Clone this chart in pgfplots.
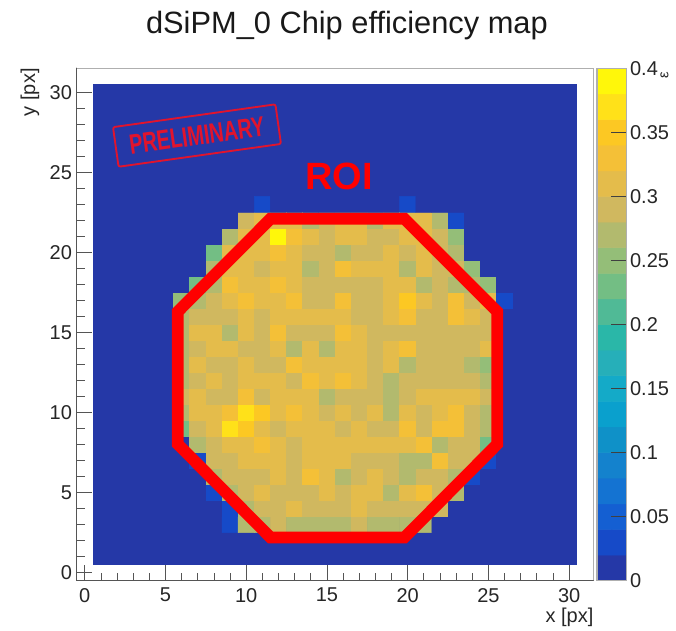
\documentclass[border=0pt]{standalone}
\usepackage{pgfplots}
\usepackage{fontspec}
\setmainfont{Liberation Sans}
\pgfplotsset{compat=1.18}
\definecolor{bg}{RGB}{37,56,167}
\definecolor{fr}{RGB}{175,175,175}
\definecolor{ax}{RGB}{85,85,85}
\definecolor{stamp}{RGB}{225,20,45}
\pgfplotsset{
 colormap={bird}{rgb255=(37,56,167) rgb255=(22,74,200) rgb255=(20,95,210) rgb255=(20,115,210)
  rgb255=(20,130,205) rgb255=(15,145,200) rgb255=(10,160,205) rgb255=(20,170,200)
  rgb255=(38,175,185) rgb255=(42,183,168) rgb255=(80,186,150) rgb255=(115,190,132)
  rgb255=(148,190,120) rgb255=(178,186,110) rgb255=(208,184,95) rgb255=(228,188,75)
  rgb255=(244,192,55) rgb255=(252,200,35) rgb255=(255,225,25) rgb255=(255,247,10)},
 colormap access=piecewise constant,
 tickfont/.style={font=\fontsize{15}{15}\selectfont, text=black!85},
}
\begin{document}
\begin{tikzpicture}[x=1pt,y=1pt]
\useasboundingbox (0,0) rectangle (507,473.25);
\begin{axis}[
 at={(57.525pt,37.725pt)}, anchor=south west,
 scale only axis, width=387.525pt, height=384.3pt,
 xmin=-0.5, xmax=31.5, ymin=-0.5, ymax=31.5,
 xtick={0,5,...,30}, ytick={0,5,...,30},
 minor x tick num=4, minor y tick num=4,
 xtick pos=bottom, ytick pos=left,
 tick align=inside,
 major tick length=11.5pt, minor tick length=6pt,
 tick style={draw=ax, line width=0.7pt},
 minor tick style={draw=ax, line width=0.6pt},
 axis line style={draw=fr, line width=1pt},
 point meta min=0, point meta max=0.4,
 /pgf/number format/assume math mode=true,
 tick label style={tickfont},
 xticklabel style={yshift=-2pt},
 yticklabel style={xshift=0pt},
 clip=false,
 title={dSiPM\_0 Chip efficiency map},
 title style={at={(axis description cs:0.523,1.068)}, anchor=center, font=\fontsize{23.1}{23.1}\selectfont, text=black!90},
 xlabel={x [px]},
 xlabel style={at={(axis description cs:1,0)}, anchor=north east, yshift=-17pt, xshift=3.5pt, font=\fontsize{15}{15}\selectfont, text=black!85},
 ylabel={y [px]},
 ylabel style={at={(axis description cs:0,1)}, anchor=south east, yshift=24.5pt, xshift=3.5pt, font=\fontsize{15}{15}\selectfont, text=black!85},
]
\addplot[fill=bg, draw=none] coordinates {(0.5,0.5) (30.5,0.5) (30.5,30.5) (0.5,30.5)} -- cycle;
\addplot[matrix plot*, mesh/cols=21, point meta=explicit] coordinates {
(6,3)[0] (7,3)[0] (8,3)[0] (9,3)[.03] (10,3)[.27] (11,3)[.27] (12,3)[.29] (13,3)[.27] (14,3)[.27] (15,3)[.27] (16,3)[.27] (17,3)[.29] (18,3)[.27] (19,3)[.27] (20,3)[.27] (21,3)[.27] (22,3)[0] (23,3)[0] (24,3)[0] (25,3)[0] (26,3)[0]
(6,4)[0] (7,4)[0] (8,4)[0] (9,4)[.03] (10,4)[.27] (11,4)[.29] (12,4)[.29] (13,4)[.31] (14,4)[.29] (15,4)[.29] (16,4)[.29] (17,4)[.31] (18,4)[.29] (19,4)[.29] (20,4)[.29] (21,4)[.29] (22,4)[.29] (23,4)[0] (24,4)[0] (25,4)[0] (26,4)[0]
(6,5)[0] (7,5)[0] (8,5)[.03] (9,5)[.27] (10,5)[.29] (11,5)[.31] (12,5)[.29] (13,5)[.29] (14,5)[.29] (15,5)[.31] (16,5)[.29] (17,5)[.31] (18,5)[.31] (19,5)[.27] (20,5)[.31] (21,5)[.33] (22,5)[.29] (23,5)[.27] (24,5)[0] (25,5)[0] (26,5)[0]
(6,6)[0] (7,6)[0] (8,6)[.27] (9,6)[.29] (10,6)[.29] (11,6)[.29] (12,6)[.31] (13,6)[.29] (14,6)[.33] (15,6)[.31] (16,6)[.27] (17,6)[.29] (18,6)[.31] (19,6)[.29] (20,6)[.27] (21,6)[.29] (22,6)[.29] (23,6)[.27] (24,6)[.03] (25,6)[0] (26,6)[0]
(6,7)[0] (7,7)[.03] (8,7)[.29] (9,7)[.29] (10,7)[.31] (11,7)[.31] (12,7)[.31] (13,7)[.29] (14,7)[.31] (15,7)[.31] (16,7)[.31] (17,7)[.29] (18,7)[.29] (19,7)[.29] (20,7)[.27] (21,7)[.27] (22,7)[.33] (23,7)[.29] (24,7)[.29] (25,7)[.03] (26,7)[0]
(6,8)[0] (7,8)[.27] (8,8)[.29] (9,8)[.31] (10,8)[.31] (11,8)[.33] (12,8)[.31] (13,8)[.29] (14,8)[.31] (15,8)[.31] (16,8)[.31] (17,8)[.31] (18,8)[.31] (19,8)[.31] (20,8)[.31] (21,8)[.33] (22,8)[.27] (23,8)[.29] (24,8)[.29] (25,8)[.23] (26,8)[0]
(6,9)[.23] (7,9)[.29] (8,9)[.31] (9,9)[.37] (10,9)[.35] (11,9)[.31] (12,9)[.29] (13,9)[.31] (14,9)[.31] (15,9)[.31] (16,9)[.29] (17,9)[.31] (18,9)[.29] (19,9)[.29] (20,9)[.33] (21,9)[.29] (22,9)[.33] (23,9)[.33] (24,9)[.29] (25,9)[.27] (26,9)[0]
(6,10)[.27] (7,10)[.31] (8,10)[.31] (9,10)[.33] (10,10)[.37] (11,10)[.35] (12,10)[.31] (13,10)[.33] (14,10)[.31] (15,10)[.29] (16,10)[.31] (17,10)[.29] (18,10)[.31] (19,10)[.27] (20,10)[.31] (21,10)[.29] (22,10)[.31] (23,10)[.33] (24,10)[.29] (25,10)[.27] (26,10)[0]
(6,11)[.29] (7,11)[.31] (8,11)[.29] (9,11)[.29] (10,11)[.33] (11,11)[.29] (12,11)[.31] (13,11)[.31] (14,11)[.31] (15,11)[.27] (16,11)[.29] (17,11)[.29] (18,11)[.29] (19,11)[.27] (20,11)[.29] (21,11)[.31] (22,11)[.31] (23,11)[.31] (24,11)[.31] (25,11)[.29] (26,11)[0]
(6,12)[.27] (7,12)[.29] (8,12)[.31] (9,12)[.29] (10,12)[.31] (11,12)[.31] (12,12)[.31] (13,12)[.29] (14,12)[.33] (15,12)[.31] (16,12)[.33] (17,12)[.31] (18,12)[.29] (19,12)[.27] (20,12)[.29] (21,12)[.29] (22,12)[.29] (23,12)[.29] (24,12)[.29] (25,12)[.27] (26,12)[0]
(6,13)[.27] (7,13)[.31] (8,13)[.29] (9,13)[.29] (10,13)[.31] (11,13)[.29] (12,13)[.29] (13,13)[.33] (14,13)[.31] (15,13)[.31] (16,13)[.31] (17,13)[.31] (18,13)[.29] (19,13)[.31] (20,13)[.27] (21,13)[.29] (22,13)[.29] (23,13)[.29] (24,13)[.27] (25,13)[.25] (26,13)[0]
(6,14)[.27] (7,14)[.29] (8,14)[.31] (9,14)[.31] (10,14)[.29] (11,14)[.29] (12,14)[.31] (13,14)[.27] (14,14)[.31] (15,14)[.27] (16,14)[.31] (17,14)[.31] (18,14)[.29] (19,14)[.31] (20,14)[.33] (21,14)[.29] (22,14)[.29] (23,14)[.29] (24,14)[.29] (25,14)[.31] (26,14)[0]
(6,15)[.27] (7,15)[.31] (8,15)[.31] (9,15)[.27] (10,15)[.31] (11,15)[.29] (12,15)[.33] (13,15)[.29] (14,15)[.29] (15,15)[.29] (16,15)[.33] (17,15)[.31] (18,15)[.29] (19,15)[.29] (20,15)[.29] (21,15)[.29] (22,15)[.29] (23,15)[.29] (24,15)[.29] (25,15)[.29] (26,15)[0]
(6,16)[.27] (7,16)[.29] (8,16)[.29] (9,16)[.29] (10,16)[.31] (11,16)[.29] (12,16)[.31] (13,16)[.31] (14,16)[.31] (15,16)[.31] (16,16)[.31] (17,16)[.29] (18,16)[.29] (19,16)[.31] (20,16)[.33] (21,16)[.29] (22,16)[.29] (23,16)[.33] (24,16)[.31] (25,16)[.29] (26,16)[0]
(6,17)[.25] (7,17)[.27] (8,17)[.29] (9,17)[.31] (10,17)[.33] (11,17)[.31] (12,17)[.31] (13,17)[.33] (14,17)[.29] (15,17)[.29] (16,17)[.33] (17,17)[.29] (18,17)[.29] (19,17)[.31] (20,17)[.35] (21,17)[.31] (22,17)[.29] (23,17)[.33] (24,17)[.29] (25,17)[.31] (26,17)[.03]
(6,18)[0] (7,18)[.23] (8,18)[.27] (9,18)[.33] (10,18)[.31] (11,18)[.31] (12,18)[.33] (13,18)[.31] (14,18)[.29] (15,18)[.29] (16,18)[.29] (17,18)[.29] (18,18)[.29] (19,18)[.31] (20,18)[.31] (21,18)[.27] (22,18)[.29] (23,18)[.27] (24,18)[.27] (25,18)[.25] (26,18)[0]
(6,19)[0] (7,19)[0] (8,19)[.27] (9,19)[.31] (10,19)[.31] (11,19)[.29] (12,19)[.31] (13,19)[.31] (14,19)[.27] (15,19)[.29] (16,19)[.33] (17,19)[.31] (18,19)[.31] (19,19)[.31] (20,19)[.27] (21,19)[.31] (22,19)[.29] (23,19)[.29] (24,19)[.25] (25,19)[0] (26,19)[0]
(6,20)[0] (7,20)[0] (8,20)[.23] (9,20)[.31] (10,20)[.31] (11,20)[.31] (12,20)[.33] (13,20)[.31] (14,20)[.29] (15,20)[.29] (16,20)[.27] (17,20)[.29] (18,20)[.29] (19,20)[.31] (20,20)[.29] (21,20)[.31] (22,20)[.29] (23,20)[.27] (24,20)[0] (25,20)[0] (26,20)[0]
(6,21)[0] (7,21)[0] (8,21)[0] (9,21)[.27] (10,21)[.31] (11,21)[.31] (12,21)[.39] (13,21)[.33] (14,21)[.31] (15,21)[.29] (16,21)[.31] (17,21)[.31] (18,21)[.29] (19,21)[.29] (20,21)[.31] (21,21)[.31] (22,21)[.29] (23,21)[.25] (24,21)[0] (25,21)[0] (26,21)[0]
(6,22)[0] (7,22)[0] (8,22)[0] (9,22)[0] (10,22)[.29] (11,22)[.31] (12,22)[.31] (13,22)[.31] (14,22)[.27] (15,22)[.29] (16,22)[.31] (17,22)[.31] (18,22)[.27] (19,22)[.31] (20,22)[.31] (21,22)[.31] (22,22)[.27] (23,22)[.03] (24,22)[0] (25,22)[0] (26,22)[0]
(6,23)[0] (7,23)[0] (8,23)[0] (9,23)[0] (10,23)[0] (11,23)[.03] (12,23)[0] (13,23)[0] (14,23)[0] (15,23)[0] (16,23)[0] (17,23)[0] (18,23)[0] (19,23)[0] (20,23)[.03] (21,23)[0] (22,23)[0] (23,23)[0] (24,23)[0] (25,23)[0] (26,23)[0]
};
% ROI polygon
\addplot[draw=red, line width=8.8pt, line join=miter] coordinates {(5.76,8.03) (5.76,16.3) (11.5,22.1) (19.8,22.1) (25.55,16.3) (25.55,8.03) (19.8,2.2) (11.5,2.2)} -- cycle;
\node[text=red, font=\fontsize{28.5}{28.5}\selectfont\bfseries, anchor=center] at (axis cs:15.75,24.75) {ROI};
\node[rotate=8, draw=stamp, line width=1.4pt, rounded corners=1.5pt, text=stamp, minimum width=123pt, minimum height=30pt, inner sep=0pt, font=\fontsize{21}{21}\selectfont\bfseries] at (axis cs:6.95,27.3) {\scalebox{0.71}[1]{PRELIMINARY}};
% frame emphasis on the axis sides
\draw[ax, line width=1pt, line cap=round] (rel axis cs:0,1) -- (rel axis cs:0,0) -- (rel axis cs:1,0);
\end{axis}
\begin{axis}[
 at={(447.75pt,37.725pt)}, anchor=south west,
 scale only axis, width=22.275pt, height=384.3pt,
 xmin=-0.5, xmax=1.5, ymin=0, ymax=0.4,
 xtick=\empty,
 ytick={0,0.05,0.1,0.15,0.2,0.25,0.3,0.35,0.4},
 yticklabels={0,0.05,0.1,0.15,0.2,0.25,0.3,0.35,0.4},
 ytick pos=right, yticklabel pos=right,
 tick align=inside, major tick length=11.5pt,
 tick style={draw=black!75, line width=0.6pt},
 axis line style={draw=fr, line width=0.8pt},
 axis on top,
 tick label style={tickfont},
 yticklabel style={xshift=-1pt},
 point meta min=0, point meta max=0.4,
 clip=false,
]
\addplot[matrix plot*, mesh/cols=2, point meta=explicit] coordinates {
(0,.01)[.01] (1,.01)[.01] (0,.03)[.03] (1,.03)[.03] (0,.05)[.05] (1,.05)[.05] (0,.07)[.07] (1,.07)[.07]
(0,.09)[.09] (1,.09)[.09] (0,.11)[.11] (1,.11)[.11] (0,.13)[.13] (1,.13)[.13] (0,.15)[.15] (1,.15)[.15]
(0,.17)[.17] (1,.17)[.17] (0,.19)[.19] (1,.19)[.19] (0,.21)[.21] (1,.21)[.21] (0,.23)[.23] (1,.23)[.23]
(0,.25)[.25] (1,.25)[.25] (0,.27)[.27] (1,.27)[.27] (0,.29)[.29] (1,.29)[.29] (0,.31)[.31] (1,.31)[.31]
(0,.33)[.33] (1,.33)[.33] (0,.35)[.35] (1,.35)[.35] (0,.37)[.37] (1,.37)[.37] (0,.39)[.39] (1,.39)[.39]
};
\draw[ax, line width=0.8pt] (rel axis cs:1,0) -- (rel axis cs:1,1);
\node[rotate=90, font=\fontsize{11}{11}\selectfont, text=black!85] at (axis cs:4.05,0.3945) {ε};
\end{axis}
\end{tikzpicture}
\end{document}
